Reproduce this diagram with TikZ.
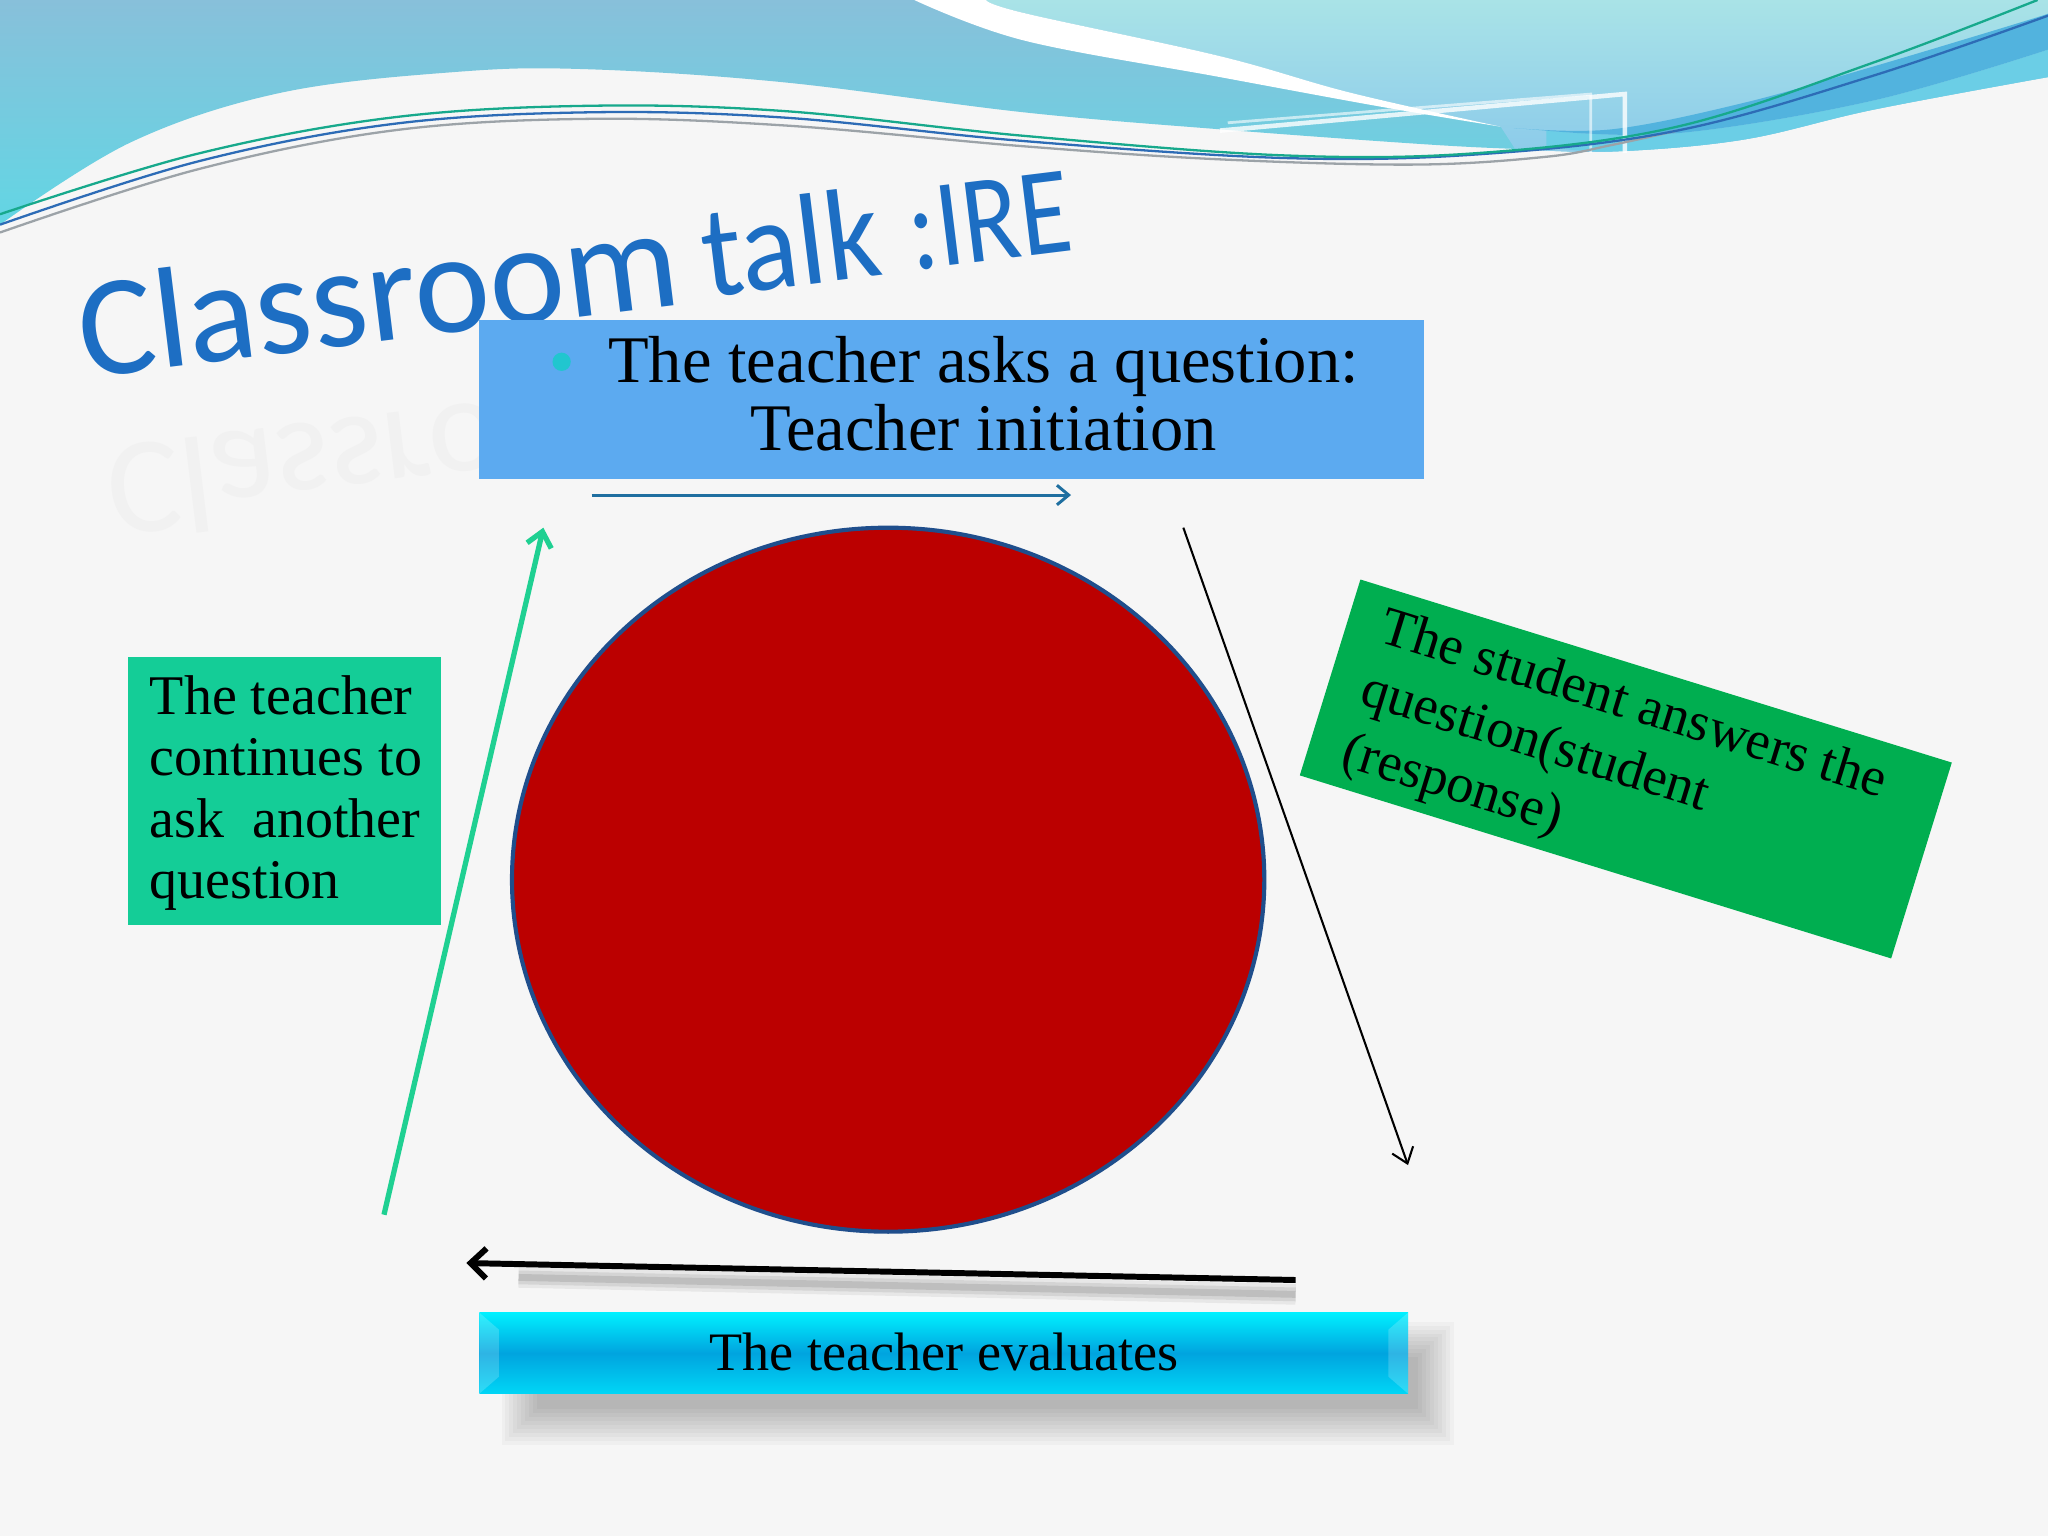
\documentclass[tikz,border=0pt]{standalone}
\usepackage{fontspec}
\setmainfont{Liberation Serif}
\newfontfamily\titlefont{Carlito}
\usetikzlibrary{arrows.meta,shapes.geometric}
\definecolor{bgc}{HTML}{F6F6F6}
\definecolor{bandtop}{HTML}{88C0DA}
\definecolor{bandbot}{HTML}{62D6E4}
\definecolor{rtop}{HTML}{A9E3E7}
\definecolor{rbot}{HTML}{8CCBEA}
\definecolor{stripe}{HTML}{52B3DE}
\definecolor{lowcyan}{HTML}{6BCEE6}
\definecolor{lteal}{HTML}{17A98C}
\definecolor{lblue}{HTML}{2D6CB6}
\definecolor{lgray}{HTML}{9CA3A8}
\definecolor{titleblue}{HTML}{1D6EC3}
\definecolor{topblue}{HTML}{5CAAF0}
\definecolor{bulletc}{HTML}{21C6CF}
\definecolor{leftgreen}{HTML}{14CD97}
\definecolor{respgreen}{HTML}{00AE50}
\definecolor{circred}{HTML}{BB0000}
\definecolor{circedge}{HTML}{1F4E8C}
\definecolor{arrowblue}{HTML}{1F6FA0}
\definecolor{arrowgreen}{HTML}{1FD092}
\definecolor{evtop}{HTML}{00F0FF}
\definecolor{evmid}{HTML}{00A4DF}
\definecolor{evbot}{HTML}{00D6F6}
\tikzset{
  boxtext/.style={inner sep=0pt, text=black},
  bigtext/.style={boxtext, font=\fontsize{14.5}{17}\selectfont},
  midtext/.style={boxtext, font=\fontsize{12.2}{14}\selectfont},
  resptext/.style={boxtext, font=\fontsize{11.9}{14.1}\selectfont},
  evtext/.style={boxtext, font=\fontsize{11.8}{14}\selectfont},
  titletext/.style={anchor=base west, rotate=7, inner sep=0pt, text=titleblue},
  topbox/.style={rectangle, fill=topblue, inner sep=0pt, minimum width=72.3mm, minimum height=12.2mm},
  leftbox/.style={rectangle, fill=leftgreen, inner sep=0pt, minimum width=24mm, minimum height=20.5mm},
  respbox/.style={rectangle, fill=respgreen, inner sep=0pt, minimum width=47.4mm, minimum height=15.7mm},
  evbox/.style={rectangle, inner sep=0pt, minimum width=71.1mm, minimum height=6.2mm,
     top color=evtop, bottom color=evbot, middle color=evmid},
  cycle/.style={ellipse, draw=circedge, line width=0.9pt, fill=circred, inner sep=0pt,
     minimum width=57.6mm, minimum height=53.9mm},
  wave/.style={smooth, tension=0.6},
  softshadow/.style={black, opacity=0.028},
}
\begin{document}
\begin{tikzpicture}[x=0.1mm,y=-0.1mm]
\useasboundingbox (0,0) rectangle (1568,1176);
\fill[bgc] (0,0) rectangle (1568,1176);

% ---------- top band ----------
\path[top color=bandtop, bottom color=bandbot]
  (0,0) -- plot[wave] coordinates {(0,172) (100,109) (215,71) (350,55) (450,53) (600,63) (784,86) (934,99) (1084,110) (1160,114) (1234,116) (1334,107) (1434,84) (1568,59)}
  -- (1568,0) -- cycle;
\path[top color=rtop, bottom color=rbot]
  plot[wave] coordinates {(755,0) (784,10) (934,43) (1034,71) (1149,97)}
  -- plot[wave] coordinates {(1160,114) (1234,116) (1334,107) (1434,84) (1568,59)}
  -- (1568,0) -- cycle;
\fill[lowcyan]
  plot[wave] coordinates {(1184,100) (1284,102) (1434,77) (1568,38)}
  -- plot[wave] coordinates {(1568,59) (1434,84) (1334,107) (1234,116) (1184,112)} -- cycle;
\fill[stripe]
  plot[wave] coordinates {(1159,98) (1234,99) (1334,79) (1434,51) (1554,15) (1568,10)}
  -- plot[wave] coordinates {(1568,38) (1434,77) (1284,102) (1184,100)} -- cycle;
\fill[white]
  plot[wave] coordinates {(755,0) (784,10) (934,43) (1034,71) (1149,97)}
  -- plot[wave] coordinates {(1149,97) (1059,82) (934,59) (784,31) (700,0)} -- cycle;
% glass frame decoration
\draw[white, opacity=0.8, line width=1pt] (934,100) -- (1244,72) -- (1244,117);
\draw[white, opacity=0.6, line width=0.6pt] (940,94) -- (1218,72) -- (1218,117);
% thin lines
\draw[lgray, line width=0.5pt] plot[wave] coordinates {(0,178) (150,130) (300,100) (450,91) (600,96) (784,112) (934,122) (1084,126) (1184,120) (1234,111) (1284,100)};
\draw[lblue, line width=0.5pt] plot[wave] coordinates {(0,172) (150,124) (300,95) (450,86) (600,90) (784,108) (984,121) (1134,118) (1284,100) (1434,58) (1568,12)};
\draw[lteal, line width=0.5pt] plot[wave] coordinates {(0,164) (150,118) (300,90) (450,81) (600,85) (784,104) (984,119) (1134,117) (1284,97) (1434,48) (1560,0)};

% ---------- title ----------
\node[anchor=base west, rotate=7, yscale=-1, text=black!7, opacity=0.55,
      font=\titlefont\fontsize{30}{30}\selectfont] (refl) at (66,345) {Classroom};
\node[titletext, font=\titlefont\fontsize{31.2}{34}\selectfont] (tiA) at (64,289.5) {Classroom};
\node[titletext, xscale=0.92, font=\titlefont\fontsize{28.4}{34}\selectfont] (tiB) at (541,227.5) {talk};
\node[titletext, xscale=0.84, font=\titlefont\fontsize{27.2}{34}\selectfont] (tiC) at (699,207) {:IRE};

% ---------- initiation box ----------
\node[topbox] (init) at (728.5,306) {};
\node[circle, fill=bulletc, inner sep=0pt, minimum size=1.4mm] (bul) at (430,277) {};
\node[bigtext, anchor=base] (initA) at (753,293) {The teacher asks a question:};
\node[bigtext, anchor=base] (initB) at (753,345) {Teacher initiation};

% ---------- circle ----------
\node[cycle] (circ) at (680,673.5) {};

% ---------- left box ----------
\node[leftbox] (cont) at (218,605.5) {};
\node[midtext, anchor=base west] (contA) at (114,547) {The teacher};
\node[midtext, anchor=base west] (contB) at (114,594) {continues to};
\node[midtext, anchor=base west] (contC) at (114,641) {ask~~another};
\node[midtext, anchor=base west] (contD) at (114,688) {question};

% ---------- response box (rotated) ----------
\begin{scope}[shift={(1244.75,588.75)}, rotate=-17.2]
  \node[respbox, transform shape] (resp) at (0,0) {};
  \node[resptext, align=left, anchor=north west, transform shape] (respT) at (-211,-66.5)
    {The student answers the\\question(student\\(response)};
\end{scope}

% ---------- evaluation box ----------
\foreach \d in {0,3,...,27} {
  \fill[softshadow] (384+\d,1012+\d) rectangle (1113-\d,1106-\d);
}
\node[evbox] (evalb) at (722.5,1036) {};
\fill[white, opacity=0.18] (367,1005) -- (382,1018) -- (382,1054) -- (367,1067) -- cycle;
\fill[white, opacity=0.18] (1078,1005) -- (1063,1018) -- (1063,1054) -- (1078,1067) -- cycle;
\node[evtext, anchor=base] (evaltext) at (723,1049) {The teacher evaluates};

% ---------- arrows ----------
\coordinate (aTopS) at (453,379);
\coordinate (aTopE) at (820,379);
\coordinate (aRS) at (906,404);
\coordinate (aRE) at (1078,892);
\coordinate (aBS) at (992,980);
\coordinate (aBE) at (357,967);
\coordinate (aLS) at (294,930);
\coordinate (aLE) at (416,404);

\draw[arrowblue, line width=0.65pt, -{Straight Barb[length=0.9mm, width=1.5mm]}] (aTopS) -- (aTopE);
\draw[black, line width=0.45pt, -{Straight Barb[length=1.1mm, width=1.7mm]}] (aRS) -- (aRE);
\draw[black, opacity=0.06, line width=4.5pt] ([yshift=-1.1mm]aBS) -- ([xshift=4mm,yshift=-1.1mm]aBE);
\draw[black, opacity=0.08, line width=3pt] ([yshift=-1.1mm]aBS) -- ([xshift=4mm,yshift=-1.1mm]aBE);
\draw[black, opacity=0.10, line width=1.5pt] ([yshift=-1.1mm]aBS) -- ([xshift=4mm,yshift=-1.1mm]aBE);
\draw[black, line width=1.3pt, -{Straight Barb[length=1.2mm, width=2.3mm]}] (aBS) -- (aBE);
\draw[arrowgreen, line width=1.15pt, -{Straight Barb[length=1.1mm, width=1.9mm]}] (aLS) -- (aLE);
\end{tikzpicture}
\end{document}
